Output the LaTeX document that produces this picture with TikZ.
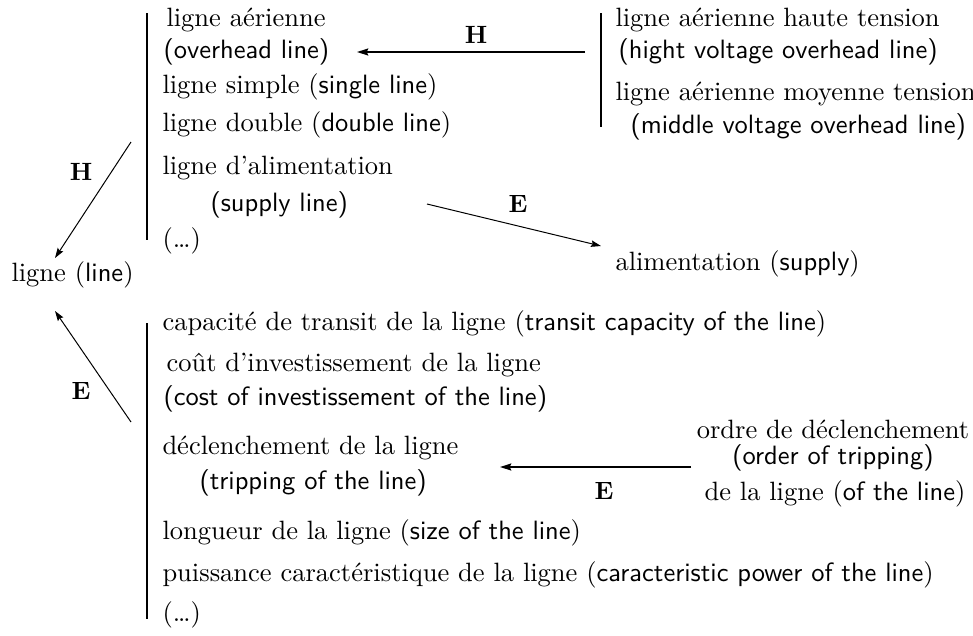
\documentclass[tikz,border=0pt]{standalone}
\usepackage{fontspec}
\usetikzlibrary{arrows.meta}

\tikzset{
  txt/.style={anchor=base west, inner sep=0pt},
  ctxt/.style={anchor=base, inner sep=0pt},
  lbl/.style={inner sep=0pt, font=\bfseries},
  bar/.style={line width=0.9pt},
  rel/.style={line width=0.4pt, -{Stealth[length=4pt, width=2.6pt, inset=0.6pt]}},
  relbold/.style={line width=0.7pt, -{Stealth[length=4.5pt, width=2.8pt, inset=0.6pt]}}
}

\begin{document}
\begin{tikzpicture}[x=0.4pt, y=-0.4pt, font=\fontsize{10.6pt}{12.7pt}\selectfont]
    \useasboundingbox (0,0) rectangle (973,635);

    \coordinate (B1t) at (147,13);
    \coordinate (B1b) at (147,240);
    \coordinate (B2t) at (601,13);
    \coordinate (B2b) at (601,127);
    \coordinate (B3t) at (147,323);
    \coordinate (B3b) at (147,619);

    \coordinate (H1s) at (585,52);
    \coordinate (H1e) at (357,52);
    \coordinate (H2s) at (131,142);
    \coordinate (H2e) at (55,258);
    \coordinate (E1s) at (427,204);
    \coordinate (E1e) at (601,246);
    \coordinate (E2s) at (131,422);
    \coordinate (E2e) at (55,311);
    \coordinate (E3s) at (691,467);
    \coordinate (E3e) at (500,467);

    \draw[bar] (B1t) -- (B1b);
    \draw[bar] (B2t) -- (B2b);
    \draw[bar] (B3t) -- (B3b);

    \draw[relbold] (H1s) -- (H1e);
    \draw[rel] (H2s) -- (H2e);
    \draw[rel] (E1s) -- (E1e);
    \draw[rel] (E2s) -- (E2e);
    \draw[relbold] (E3s) -- (E3e);

    \node[lbl] (hTop) at (476,35) {H};
    \node[lbl] (hLeft) at (81,172) {H};
    \node[lbl] (eTop) at (518,204) {E};
    \node[lbl] (eLeft) at (81,391) {E};
    \node[lbl] (eBot) at (604,491) {E};

    \node[txt] (line) at (11,281) {ligne (\textsf{line})};

    % upper list
    \node[txt] (aer) at (166,26) {ligne aérienne};
    \node[txt] (aerEn) at (163,58) {\textsf{(overhead line)}};
    \node[txt] (simple) at (162,93) {ligne simple (\textsf{single line})};
    \node[txt] (double) at (162,131) {ligne double (\textsf{double line})};
    \node[txt] (supl) at (162,174) {ligne d'alimentation};
    \node[txt] (suplEn) at (210,211) {\textsf{(supply line)}};
    \node[txt] (etc1) at (162,247) {(\ldots)};

    % right upper list
    \node[txt] (ht) at (615,26) {ligne aérienne haute tension};
    \node[txt] (htEn) at (618,58) {\textsf{(hight voltage overhead line)}};
    \node[txt] (mt) at (615,100) {ligne aérienne moyenne tension};
    \node[txt] (mtEn) at (630,133) {\textsf{(middle voltage overhead line)}};

    \node[txt] (supply) at (615,270) {alimentation (\textsf{supply})};

    % lower list
    \node[txt] (cap) at (162,330) {capacité de transit de la ligne (\textsf{transit capacity of the line})};
    \node[txt] (cost) at (166,371) {coût d'investissement de la ligne};
    \node[txt] (costEn) at (163,405) {\textsf{(cost of investissement of the line)}};
    \node[txt] (trip) at (162,454) {déclenchement de la ligne};
    \node[txt] (tripEn) at (199,489) {\textsf{(tripping of the line)}};
    \node[txt] (size) at (162,539) {longueur de la ligne (\textsf{size of the line})};
    \node[txt] (pow) at (162,581) {puissance caractéristique de la ligne (\textsf{caracteristic power of the line})};
    \node[txt] (etc2) at (162,621) {(\ldots)};

    % order of tripping
    \node[ctxt] (ord) at (833,438) {ordre de déclenchement};
    \node[ctxt] (ordEn) at (833,464) {\textsf{(order of tripping)}};
    \node[ctxt] (ordLn) at (835,500) {de la ligne (\textsf{of the line})};
\end{tikzpicture}
\end{document}
